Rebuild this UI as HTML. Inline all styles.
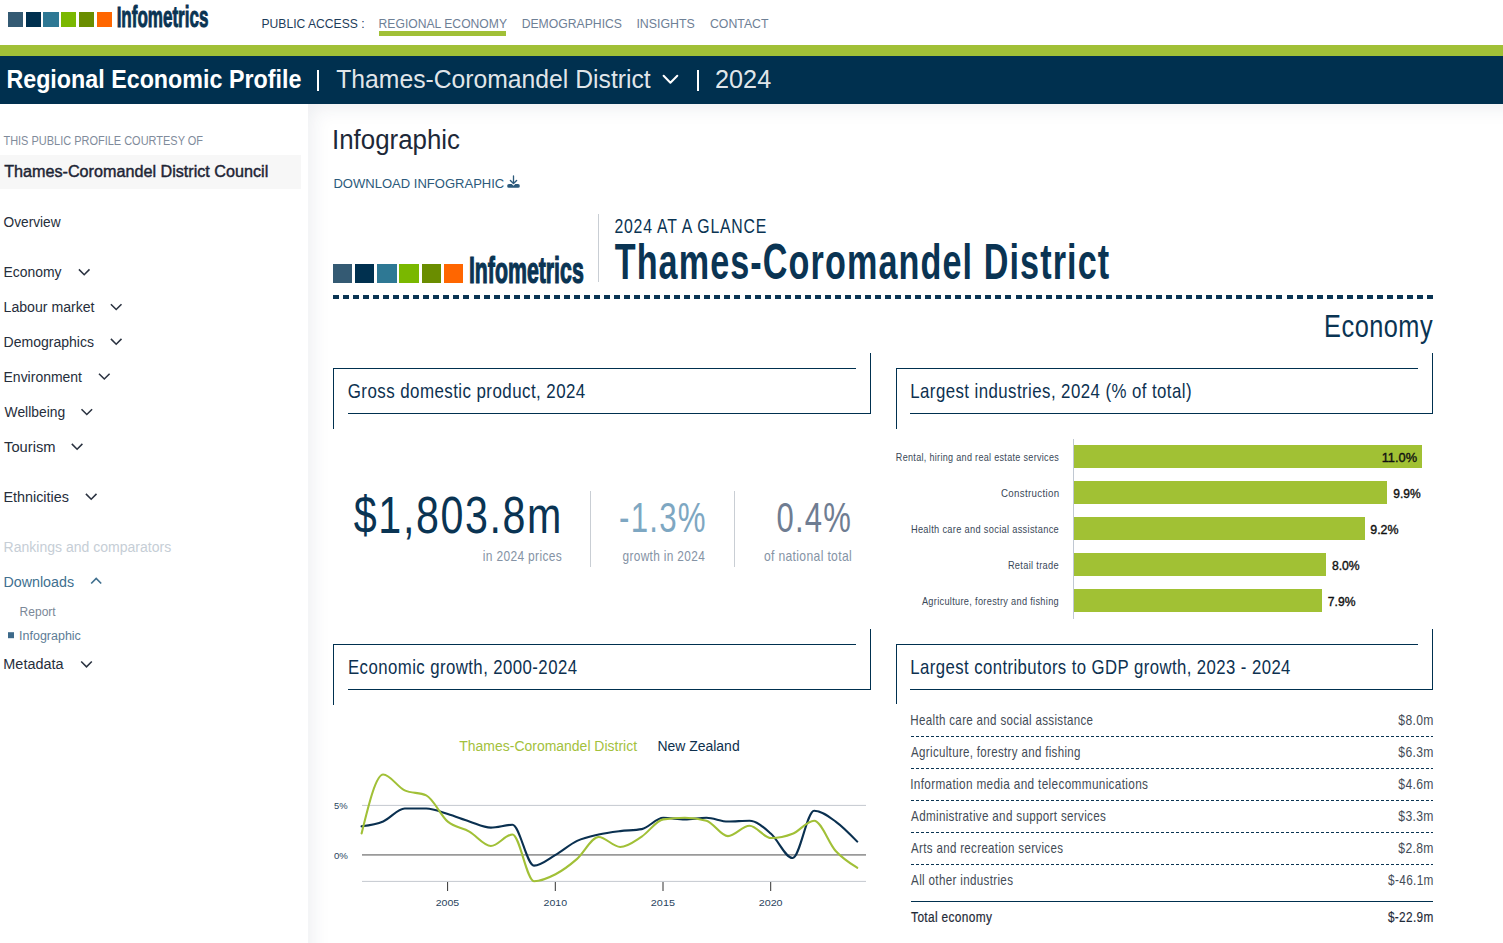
<!DOCTYPE html>
<html><head><meta charset="utf-8"><title>Regional Economic Profile | Thames-Coromandel District | Infometrics</title>
<style>
html,body{margin:0;padding:0;}
body{width:1503px;height:943px;position:relative;overflow:hidden;background:#fff;font-family:"Liberation Sans",sans-serif;}
.r{position:absolute;}
.t{position:absolute;white-space:nowrap;transform-origin:0 0;font-family:"Liberation Sans",sans-serif;}
.main{position:absolute;left:308px;top:104px;width:1400px;height:1000px;background:#fff;box-shadow:inset 3px 3px 20px rgba(30,50,80,0.085);}
</style></head>
<body>
<div class="main"></div>
<div class="r" style="left:8.0px;top:12px;width:15.4px;height:15.4px;background:#345a73;"></div><div class="r" style="left:25.7px;top:12px;width:15.4px;height:15.4px;background:#00304f;"></div><div class="r" style="left:43.4px;top:12px;width:15.4px;height:15.4px;background:#2e7894;"></div><div class="r" style="left:61.1px;top:12px;width:15.4px;height:15.4px;background:#7ab800;"></div><div class="r" style="left:78.8px;top:12px;width:15.4px;height:15.4px;background:#6a8d00;"></div><div class="r" style="left:96.5px;top:12px;width:15.4px;height:15.4px;background:#ff6600;"></div><div class="r" style="left:379px;top:31px;width:127px;height:5px;background:#a1c037;"></div><div class="r" style="left:0px;top:45px;width:1503px;height:11px;background:#a1c037;"></div><div class="r" style="left:0px;top:56px;width:1503px;height:48px;background:#00304f;"></div><div class="r" style="left:317px;top:70px;width:2px;height:20.5px;background:#ffffff;"></div><div class="r" style="left:696.5px;top:70px;width:2px;height:20.5px;background:#ffffff;"></div><div class="r" style="left:0px;top:155px;width:301px;height:34px;background:#f7f7f7;"></div><div class="r" style="left:333.0px;top:264.2px;width:19.3px;height:19.3px;background:#345a73;"></div><div class="r" style="left:355.15px;top:264.2px;width:19.3px;height:19.3px;background:#00304f;"></div><div class="r" style="left:377.3px;top:264.2px;width:19.3px;height:19.3px;background:#2e7894;"></div><div class="r" style="left:399.45px;top:264.2px;width:19.3px;height:19.3px;background:#7ab800;"></div><div class="r" style="left:421.6px;top:264.2px;width:19.3px;height:19.3px;background:#6a8d00;"></div><div class="r" style="left:443.75px;top:264.2px;width:19.3px;height:19.3px;background:#ff6600;"></div><div class="r" style="left:598px;top:214px;width:1px;height:67.5px;background:#c9ced4;"></div><div class="r" style="left:333px;top:295px;width:1100px;height:4px;background:repeating-linear-gradient(90deg,#0a3453 0 6px,transparent 6px 10.037px)"></div><div class="r" style="left:333px;top:368px;width:523px;height:1px;background:#00304f;"></div><div class="r" style="left:333px;top:368px;width:1px;height:61px;background:#00304f;"></div><div class="r" style="left:870px;top:353px;width:1px;height:61px;background:#00304f;"></div><div class="r" style="left:348px;top:413px;width:523px;height:1px;background:#00304f;"></div><div class="r" style="left:896px;top:368px;width:522px;height:1px;background:#00304f;"></div><div class="r" style="left:896px;top:368px;width:1px;height:61px;background:#00304f;"></div><div class="r" style="left:1432px;top:353px;width:1px;height:61px;background:#00304f;"></div><div class="r" style="left:910px;top:413px;width:523px;height:1px;background:#00304f;"></div><div class="r" style="left:333px;top:644px;width:523px;height:1px;background:#00304f;"></div><div class="r" style="left:333px;top:644px;width:1px;height:61px;background:#00304f;"></div><div class="r" style="left:870px;top:629px;width:1px;height:61px;background:#00304f;"></div><div class="r" style="left:348px;top:689px;width:523px;height:1px;background:#00304f;"></div><div class="r" style="left:896px;top:644px;width:522px;height:1px;background:#00304f;"></div><div class="r" style="left:896px;top:644px;width:1px;height:60px;background:#00304f;"></div><div class="r" style="left:1432px;top:629px;width:1px;height:61px;background:#00304f;"></div><div class="r" style="left:910px;top:689px;width:523px;height:1px;background:#00304f;"></div><div class="r" style="left:590px;top:491px;width:1px;height:75.5px;background:#c9ced4;"></div><div class="r" style="left:734px;top:491px;width:1px;height:75.5px;background:#c9ced4;"></div><div class="r" style="left:1073px;top:439px;width:1px;height:180px;background:#c0c8d2;"></div><div class="r" style="left:1074px;top:445.1px;width:348.1px;height:22.6px;background:#a1c134;"></div><div class="r" style="left:1074px;top:481px;width:312.9px;height:22.6px;background:#a1c134;"></div><div class="r" style="left:1074px;top:517.1px;width:290.9px;height:22.6px;background:#a1c134;"></div><div class="r" style="left:1074px;top:553.3px;width:252px;height:22.6px;background:#a1c134;"></div><div class="r" style="left:1074px;top:589.2px;width:248px;height:22.6px;background:#a1c134;"></div><div class="r" style="left:911px;top:736.00px;width:522px;height:1px;background:repeating-linear-gradient(90deg,#0a3453 0 3px,transparent 3px 5px)"></div><div class="r" style="left:911px;top:768.05px;width:522px;height:1px;background:repeating-linear-gradient(90deg,#0a3453 0 3px,transparent 3px 5px)"></div><div class="r" style="left:911px;top:800.10px;width:522px;height:1px;background:repeating-linear-gradient(90deg,#0a3453 0 3px,transparent 3px 5px)"></div><div class="r" style="left:911px;top:832.15px;width:522px;height:1px;background:repeating-linear-gradient(90deg,#0a3453 0 3px,transparent 3px 5px)"></div><div class="r" style="left:911px;top:864.20px;width:522px;height:1px;background:repeating-linear-gradient(90deg,#0a3453 0 3px,transparent 3px 5px)"></div><div class="r" style="left:911px;top:900.8px;width:522px;height:1.5px;background:#00304f;"></div>
<svg class="r" style="left:0;top:0" width="1503" height="943" viewBox="0 0 1503 943">
<line x1="362" y1="805.4" x2="866" y2="805.4" stroke="#c4c9cf" stroke-width="1"/>
<line x1="362" y1="881.4" x2="866" y2="881.4" stroke="#c4c9cf" stroke-width="1"/>
<line x1="362" y1="854.9" x2="866" y2="854.9" stroke="#9a9a9a" stroke-width="1.6"/>
<line x1="447.6" y1="882" x2="447.6" y2="891" stroke="#333" stroke-width="1"/><line x1="555.3" y1="882" x2="555.3" y2="891" stroke="#333" stroke-width="1"/><line x1="663.0" y1="882" x2="663.0" y2="891" stroke="#333" stroke-width="1"/><line x1="770.7" y1="882" x2="770.7" y2="891" stroke="#333" stroke-width="1"/>
<path d="M361.60,826.33 C368.78,825.38 375.97,824.43 383.15,821.47 C390.33,818.51 397.52,808.57 404.70,808.57 C411.88,808.57 419.07,808.57 426.25,808.57 C433.43,808.57 440.62,811.88 447.80,814.03 C454.98,816.18 462.17,819.20 469.35,821.47 C476.53,823.73 483.72,827.62 490.90,827.62 C498.08,827.62 505.27,824.74 512.45,824.74 C519.63,824.74 526.82,865.61 534.00,865.61 C541.18,865.61 548.37,859.02 555.55,854.90 C562.73,850.78 569.92,844.32 577.10,840.91 C584.28,837.51 591.47,836.10 598.65,834.46 C605.83,832.83 613.02,831.98 620.20,831.09 C627.38,830.20 634.57,830.43 641.75,829.11 C648.93,827.79 656.12,817.80 663.30,817.80 C670.48,817.80 677.67,819.39 684.85,819.39 C692.03,819.39 699.22,817.80 706.40,817.80 C713.58,817.80 720.77,821.57 727.95,821.57 C735.13,821.57 742.32,820.68 749.50,820.68 C756.68,820.68 763.87,827.54 771.05,833.77 C778.23,840.00 785.42,858.07 792.60,858.07 C799.78,858.07 806.97,810.76 814.15,810.76 C821.33,810.76 828.52,816.43 835.70,821.57 C842.88,826.71 850.07,834.16 857.25,841.61" fill="none" stroke="#0a3050" stroke-width="2.1" stroke-linecap="round"/>
<path d="M361.60,833.47 C368.78,804.01 375.97,774.55 383.15,774.55 C390.33,774.55 397.52,787.11 404.70,790.42 C411.88,793.73 419.07,792.07 426.25,795.38 C433.43,798.69 440.62,815.63 447.80,821.67 C454.98,827.70 462.17,827.54 469.35,831.59 C476.53,835.64 483.72,845.97 490.90,845.97 C498.08,845.97 505.27,834.46 512.45,834.46 C519.63,834.46 526.82,881.19 534.00,881.19 C541.18,881.19 548.37,877.96 555.55,874.24 C562.73,870.52 569.92,865.07 577.10,858.87 C584.28,852.67 591.47,837.04 598.65,837.04 C605.83,837.04 613.02,846.96 620.20,846.96 C627.38,846.96 634.57,841.14 641.75,836.55 C648.93,831.95 656.12,820.44 663.30,819.39 C670.48,818.33 677.67,817.80 684.85,817.80 C692.03,817.80 699.22,818.76 706.40,820.68 C713.58,822.59 720.77,836.15 727.95,836.15 C735.13,836.15 742.32,825.74 749.50,825.74 C756.68,825.74 763.87,838.04 771.05,838.04 C778.23,838.04 785.42,836.61 792.60,833.77 C799.78,830.93 806.97,820.68 814.15,820.68 C821.33,820.68 828.52,843.08 835.70,850.93 C842.88,858.79 850.07,863.29 857.25,867.80" fill="none" stroke="#a1c037" stroke-width="2.1" stroke-linecap="round"/>
<!-- chevrons -->
<g fill="none" stroke="#ffffff" stroke-width="2" stroke-linecap="round" stroke-linejoin="round"><path d="M663.6,75.8 L670.4,82.8 L677.3,75.8"/></g>
<g fill="none" stroke="#2a3240" stroke-width="1.55">
<path d="M78.9,269.4 L84.2,274.7 L89.5,269.4"/><path d="M110.9,304.2 L116.2,309.5 L121.5,304.2"/><path d="M110.9,338.9 L116.2,344.2 L121.5,338.9"/><path d="M99,373.7 L104.3,379.0 L109.6,373.7"/><path d="M81.5,409.2 L86.8,414.5 L92.1,409.2"/><path d="M71.8,443.9 L77.1,449.2 L82.39999999999999,443.9"/><path d="M85.9,493.9 L91.2,499.2 L96.5,493.9"/>
<path d="M81.2,661.5 L86.5,666.8 L91.8,661.5"/>
</g>
<path d="M91.2,583.5 L96.2,578.5 L101.2,583.5" fill="none" stroke="#41708f" stroke-width="1.7"/>
<rect x="8" y="632.2" width="6" height="6" fill="#3d6a8a"/>
<!-- download icon -->
<g fill="none" stroke="#2c5a7b" stroke-linecap="round" stroke-linejoin="round"><path d="M513.5,175.9 V182.6" stroke-width="1.3"/><path d="M510.4,180.5 L513.5,183.5 L516.6,180.5" stroke-width="1.4"/></g>
<path fill="#2c5a7b" d="M509,184.1 H511.7 L513.5,185.8 L515.3,184.1 H518 A1.85,1.85 0 0 1 518,187.8 H509 A1.85,1.85 0 0 1 509,184.1 Z"/>
</svg>
<span class="t" style="left:116px;top:2.10px;font-size:30.23px;line-height:30.23px;font-weight:700;color:#0a3453;transform:translateX(0.63px) scaleX(0.5631);-webkit-text-stroke:1px #0a3453;">Infometrics</span><span class="t" style="left:261px;top:17.80px;font-size:12.5px;line-height:12.5px;font-weight:400;color:#1d3c5a;transform:translateX(0.51px) scaleX(0.9693);">PUBLIC ACCESS :</span><span class="t" style="left:378px;top:17.80px;font-size:12.5px;line-height:12.5px;font-weight:400;color:#6e8096;transform:translateX(0.60px) scaleX(0.9712);">REGIONAL ECONOMY</span><span class="t" style="left:521px;top:18.00px;font-size:12.5px;line-height:12.5px;font-weight:400;color:#6e8096;transform:translateX(0.65px) scaleX(0.9764);">DEMOGRAPHICS</span><span class="t" style="left:636px;top:18.00px;font-size:12.5px;line-height:12.5px;font-weight:400;color:#6e8096;transform:translateX(0.41px) scaleX(0.9888);">INSIGHTS</span><span class="t" style="left:709px;top:18.00px;font-size:12.5px;line-height:12.5px;font-weight:400;color:#6e8096;transform:translateX(0.97px) scaleX(0.9841);">CONTACT</span><span class="t" style="left:6px;top:65.80px;font-size:26.02px;line-height:26.02px;font-weight:700;color:#ffffff;transform:translateX(0.38px) scaleX(0.8950);">Regional Economic Profile</span><span class="t" style="left:336px;top:67.00px;font-size:25.58px;line-height:25.58px;font-weight:400;color:rgba(255,255,255,0.9);transform:translateX(0.21px) scaleX(0.9662);">Thames-Coromandel District</span><span class="t" style="left:715px;top:67.00px;font-size:25.58px;line-height:25.58px;font-weight:400;color:rgba(255,255,255,0.9);transform:translateX(0.10px) scaleX(0.9849);">2024</span><span class="t" style="left:3px;top:134.00px;font-size:13.08px;line-height:13.08px;font-weight:400;color:#7f8b9b;transform:translateX(0.44px) scaleX(0.8392);">THIS PUBLIC PROFILE COURTESY OF</span><span class="t" style="left:4px;top:164.30px;font-size:16.86px;line-height:16.86px;font-weight:400;color:#1e2535;transform:translateX(0.16px) scaleX(0.9587);-webkit-text-stroke:0.45px #1e2535">Thames-Coromandel District Council</span><span class="t" style="left:3px;top:214.80px;font-size:14.53px;line-height:14.53px;font-weight:400;color:#262e3b;transform:translateX(0.57px) scaleX(0.9422);">Overview</span><span class="t" style="left:3px;top:265.20px;font-size:14.53px;line-height:14.53px;font-weight:400;color:#262e3b;transform:translateX(0.55px) scaleX(0.9579);">Economy</span><span class="t" style="left:3px;top:300.00px;font-size:14.53px;line-height:14.53px;font-weight:400;color:#262e3b;transform:translateX(0.54px) scaleX(0.9723);">Labour market</span><span class="t" style="left:3px;top:334.70px;font-size:14.53px;line-height:14.53px;font-weight:400;color:#262e3b;transform:translateX(0.53px) scaleX(0.9670);">Demographics</span><span class="t" style="left:3px;top:369.50px;font-size:14.53px;line-height:14.53px;font-weight:400;color:#262e3b;transform:translateX(0.54px) scaleX(0.9627);">Environment</span><span class="t" style="left:4px;top:405.00px;font-size:14.53px;line-height:14.53px;font-weight:400;color:#262e3b;transform:translateX(0.55px) scaleX(0.9545);">Wellbeing</span><span class="t" style="left:4px;top:439.70px;font-size:14.53px;line-height:14.53px;font-weight:400;color:#262e3b;transform:translateX(0.07px) scaleX(1.0125);">Tourism</span><span class="t" style="left:3px;top:489.60px;font-size:14.53px;line-height:14.53px;font-weight:400;color:#262e3b;transform:translateX(0.38px) scaleX(0.9908);">Ethnicities</span><span class="t" style="left:3px;top:539.70px;font-size:14.53px;line-height:14.53px;font-weight:400;color:#c6ced6;transform:translateX(0.62px) scaleX(0.9660);">Rankings and comparators</span><span class="t" style="left:3px;top:575.00px;font-size:14.53px;line-height:14.53px;font-weight:400;color:#41708f;transform:translateX(0.46px) scaleX(0.9833);">Downloads</span><span class="t" style="left:19px;top:605.70px;font-size:12.5px;line-height:12.5px;font-weight:400;color:#7b8898;transform:translateX(0.61px) scaleX(0.9605);">Report</span><span class="t" style="left:19px;top:630.00px;font-size:12.5px;line-height:12.5px;font-weight:400;color:#5d7c96;transform:translateX(0.12px) scaleX(0.9976);">Infographic</span><span class="t" style="left:3px;top:657.30px;font-size:14.53px;line-height:14.53px;font-weight:400;color:#262e3b;transform:translateX(0.36px) scaleX(0.9927);">Metadata</span><span class="t" style="left:332px;top:127.30px;font-size:26.74px;line-height:26.74px;font-weight:400;color:#1d2838;transform:translateX(0.01px) scaleX(0.9679);">Infographic</span><span class="t" style="left:333px;top:176.80px;font-size:13.66px;line-height:13.66px;font-weight:400;color:#2c5a7b;transform:translateX(0.43px) scaleX(0.9541);">DOWNLOAD INFOGRAPHIC</span><span class="t" style="left:468px;top:252.80px;font-size:36.34px;line-height:36.34px;font-weight:700;color:#0a3453;transform:translateX(0.89px) scaleX(0.5865);-webkit-text-stroke:1.2px #0a3453;">Infometrics</span><span class="t" style="left:614px;top:215.80px;font-size:20.06px;line-height:20.06px;font-weight:400;color:#0a3453;transform:translateX(0.38px) scaleX(0.7892);letter-spacing:1px;">2024 AT A GLANCE</span><span class="t" style="left:614px;top:237.90px;font-size:49.71px;line-height:49.71px;font-weight:700;color:#0a3453;transform:translateX(0.66px) scaleX(0.6873);letter-spacing:1.6px;">Thames-Coromandel District</span><span class="t" style="left:1324px;top:311.20px;font-size:31.1px;line-height:31.1px;font-weight:400;color:#0a3453;transform:translateX(0.12px) scaleX(0.8140);letter-spacing:0.6px;">Economy</span><span class="t" style="left:347px;top:381.70px;font-size:19.62px;line-height:19.62px;font-weight:400;color:#0d3150;transform:translateX(0.74px) scaleX(0.8634);letter-spacing:0.5px;">Gross domestic product, 2024</span><span class="t" style="left:910px;top:382.00px;font-size:19.62px;line-height:19.62px;font-weight:400;color:#0d3150;transform:translateX(0.25px) scaleX(0.8587);letter-spacing:0.5px;">Largest industries, 2024 (% of total)</span><span class="t" style="left:347px;top:657.50px;font-size:19.62px;line-height:19.62px;font-weight:400;color:#0d3150;transform:translateX(1.00px) scaleX(0.8558);letter-spacing:0.5px;">Economic growth, 2000-2024</span><span class="t" style="left:910px;top:657.70px;font-size:19.62px;line-height:19.62px;font-weight:400;color:#0d3150;transform:translateX(0.27px) scaleX(0.8532);letter-spacing:0.5px;">Largest contributors to GDP growth, 2023 - 2024</span><span class="t" style="left:353px;top:489.80px;font-size:51.6px;line-height:51.6px;font-weight:400;color:#0a3453;transform:translateX(0.85px) scaleX(0.7990);letter-spacing:2px;">$1,803.8m</span><span class="t" style="left:482px;top:549.00px;font-size:14.1px;line-height:14.1px;font-weight:400;color:#8593a5;transform:translateX(0.72px) scaleX(0.8503);letter-spacing:0.4px;">in 2024 prices</span><span class="t" style="left:619px;top:497.10px;font-size:41.72px;line-height:41.72px;font-weight:400;color:#7ea7c2;transform:translateX(0.07px) scaleX(0.7489);letter-spacing:1.6px;">-1.3%</span><span class="t" style="left:622px;top:548.50px;font-size:14.1px;line-height:14.1px;font-weight:400;color:#8593a5;transform:translateX(0.52px) scaleX(0.8421);letter-spacing:0.4px;">growth in 2024</span><span class="t" style="left:776px;top:497.10px;font-size:41.72px;line-height:41.72px;font-weight:400;color:#6f7d92;transform:translateX(0.44px) scaleX(0.7440);letter-spacing:1.6px;">0.4%</span><span class="t" style="left:763px;top:548.50px;font-size:14.1px;line-height:14.1px;font-weight:400;color:#8593a5;transform:translateX(0.88px) scaleX(0.8612);letter-spacing:0.4px;">of national total</span><span class="t" style="left:895px;top:453.20px;font-size:10.32px;line-height:10.32px;font-weight:400;color:#3a4858;transform:translateX(0.84px) scaleX(0.8769);letter-spacing:0.35px;">Rental, hiring and real estate services</span><span class="t" style="left:1001px;top:489.10px;font-size:10.32px;line-height:10.32px;font-weight:400;color:#3a4858;transform:translateX(0.00px) scaleX(0.9415);letter-spacing:0.35px;">Construction</span><span class="t" style="left:910px;top:525.00px;font-size:10.32px;line-height:10.32px;font-weight:400;color:#3a4858;transform:translateX(0.92px) scaleX(0.8969);letter-spacing:0.35px;">Health care and social assistance</span><span class="t" style="left:1007px;top:561.00px;font-size:10.32px;line-height:10.32px;font-weight:400;color:#3a4858;transform:translateX(0.89px) scaleX(0.8952);letter-spacing:0.35px;">Retail trade</span><span class="t" style="left:921px;top:597.00px;font-size:10.32px;line-height:10.32px;font-weight:400;color:#3a4858;transform:translateX(0.88px) scaleX(0.8921);letter-spacing:0.35px;">Agriculture, forestry and fishing</span><span class="t" style="left:1381px;top:451.20px;font-size:13.66px;line-height:13.66px;font-weight:400;color:#111111;transform:translateX(0.65px) scaleX(0.9379);-webkit-text-stroke:0.4px #111">11.0%</span><span class="t" style="left:1393px;top:487.20px;font-size:13.66px;line-height:13.66px;font-weight:400;color:#111111;transform:translateX(0.20px) scaleX(0.8792);-webkit-text-stroke:0.4px #111">9.9%</span><span class="t" style="left:1370px;top:523.00px;font-size:13.66px;line-height:13.66px;font-weight:400;color:#111111;transform:translateX(0.24px) scaleX(0.9071);-webkit-text-stroke:0.4px #111">9.2%</span><span class="t" style="left:1331px;top:559.00px;font-size:13.66px;line-height:13.66px;font-weight:400;color:#111111;transform:translateX(0.89px) scaleX(0.8921);-webkit-text-stroke:0.4px #111">8.0%</span><span class="t" style="left:1327px;top:595.00px;font-size:13.66px;line-height:13.66px;font-weight:400;color:#111111;transform:translateX(0.87px) scaleX(0.8881);-webkit-text-stroke:0.4px #111">7.9%</span><span class="t" style="left:459px;top:739.60px;font-size:13.95px;line-height:13.95px;font-weight:400;color:#a3c13c;transform:translateX(0.27px) scaleX(1.0023);">Thames-Coromandel District</span><span class="t" style="left:657px;top:739.60px;font-size:13.95px;line-height:13.95px;font-weight:400;color:#0d2f4d;transform:translateX(0.47px) scaleX(1.0005);">New Zealand</span><span class="t" style="left:334px;top:801.70px;font-size:9.3px;line-height:9.3px;font-weight:400;color:#2a4560;transform:translateX(0.08px) scaleX(1.0128);">5%</span><span class="t" style="left:333px;top:851.60px;font-size:9.3px;line-height:9.3px;font-weight:400;color:#2a4560;transform:translateX(0.89px) scaleX(1.0393);">0%</span><span class="t" style="left:435px;top:897.80px;font-size:9.74px;line-height:9.74px;font-weight:400;color:#2a4560;transform:translateX(0.72px) scaleX(1.0861);">2005</span><span class="t" style="left:543px;top:897.80px;font-size:9.74px;line-height:9.74px;font-weight:400;color:#2a4560;transform:translateX(0.51px) scaleX(1.0855);">2010</span><span class="t" style="left:650px;top:897.80px;font-size:9.74px;line-height:9.74px;font-weight:400;color:#2a4560;transform:translateX(0.82px) scaleX(1.1154);">2015</span><span class="t" style="left:758px;top:897.80px;font-size:9.74px;line-height:9.74px;font-weight:400;color:#2a4560;transform:translateX(0.70px) scaleX(1.1025);">2020</span><span class="t" style="left:910px;top:712.80px;font-size:14.1px;line-height:14.1px;font-weight:400;color:#434b56;transform:translateX(0.34px) scaleX(0.8202);letter-spacing:0.4px;">Health care and social assistance</span><span class="t" style="left:1398px;top:712.80px;font-size:14.1px;line-height:14.1px;font-weight:400;color:#434b56;transform:translateX(0.34px) scaleX(0.8620);letter-spacing:0.4px;">$8.0m</span><span class="t" style="left:911px;top:744.85px;font-size:14.1px;line-height:14.1px;font-weight:400;color:#434b56;transform:translateX(0.11px) scaleX(0.8176);letter-spacing:0.4px;">Agriculture, forestry and fishing</span><span class="t" style="left:1398px;top:744.85px;font-size:14.1px;line-height:14.1px;font-weight:400;color:#434b56;transform:translateX(0.34px) scaleX(0.8620);letter-spacing:0.4px;">$6.3m</span><span class="t" style="left:910px;top:776.90px;font-size:14.1px;line-height:14.1px;font-weight:400;color:#434b56;transform:translateX(0.14px) scaleX(0.8366);letter-spacing:0.4px;">Information media and telecommunications</span><span class="t" style="left:1398px;top:776.90px;font-size:14.1px;line-height:14.1px;font-weight:400;color:#434b56;transform:translateX(0.34px) scaleX(0.8620);letter-spacing:0.4px;">$4.6m</span><span class="t" style="left:911px;top:808.95px;font-size:14.1px;line-height:14.1px;font-weight:400;color:#434b56;transform:translateX(0.10px) scaleX(0.8249);letter-spacing:0.4px;">Administrative and support services</span><span class="t" style="left:1398px;top:808.95px;font-size:14.1px;line-height:14.1px;font-weight:400;color:#434b56;transform:translateX(0.34px) scaleX(0.8620);letter-spacing:0.4px;">$3.3m</span><span class="t" style="left:911px;top:841.00px;font-size:14.1px;line-height:14.1px;font-weight:400;color:#434b56;transform:translateX(0.08px) scaleX(0.8186);letter-spacing:0.4px;">Arts and recreation services</span><span class="t" style="left:1398px;top:841.00px;font-size:14.1px;line-height:14.1px;font-weight:400;color:#434b56;transform:translateX(0.34px) scaleX(0.8620);letter-spacing:0.4px;">$2.8m</span><span class="t" style="left:911px;top:873.05px;font-size:14.1px;line-height:14.1px;font-weight:400;color:#434b56;transform:translateX(0.06px) scaleX(0.8247);letter-spacing:0.4px;">All other industries</span><span class="t" style="left:1388px;top:873.05px;font-size:14.1px;line-height:14.1px;font-weight:400;color:#434b56;transform:translateX(0.04px) scaleX(0.8387);letter-spacing:0.4px;">$-46.1m</span><span class="t" style="left:911px;top:910.60px;font-size:13.81px;line-height:13.81px;font-weight:400;color:#1f2a38;transform:translateX(0.10px) scaleX(0.8619);-webkit-text-stroke:0.2px #1f2a38;letter-spacing:0.4px;">Total economy</span><span class="t" style="left:1387px;top:910.60px;font-size:13.95px;line-height:13.95px;font-weight:400;color:#1f2a38;transform:translateX(0.91px) scaleX(0.8472);-webkit-text-stroke:0.15px #1f2a38;letter-spacing:0.4px;">$-22.9m</span>
</body></html>
